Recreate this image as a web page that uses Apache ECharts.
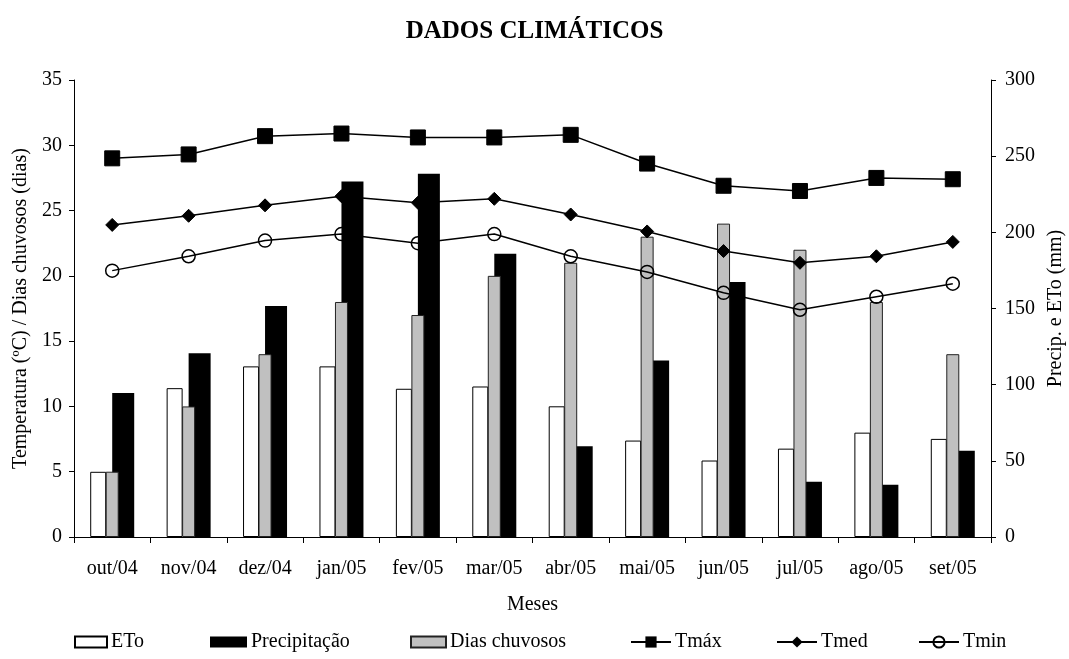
<!DOCTYPE html>
<html>
<head>
<meta charset="utf-8">
<script src="https://cdn.jsdelivr.net/npm/echarts@6/dist/echarts.min.js"></script>
<style>html,body{margin:0;padding:0;background:#fff}#c{width:1069px;height:659px}</style>
</head>
<body>
<div id="c"></div>
<script>
const categories = ['out/04','nov/04','dez/04','jan/05','fev/05','mar/05','abr/05','mai/05','jun/05','jul/05','ago/05','set/05'];
const eto = [42.8, 97.7, 112, 112, 97.3, 98.8, 85.8, 63.3, 50.2, 58.0, 68.5, 64.4];
const precipitacao = [94.5, 120.6, 151.6, 233.4, 238.5, 185.9, 59.6, 115.9, 167.4, 36.2, 34.3, 56.7];
const diasChuvosos = [5, 10, 14, 18, 17, 20, 21, 23, 24, 22, 18, 14];
const tmax = [29.0, 29.3, 30.7, 30.9, 30.6, 30.6, 30.8, 28.6, 26.9, 26.5, 27.5, 27.4];
const tmed = [23.9, 24.6, 25.4, 26.1, 25.6, 25.9, 24.7, 23.4, 21.9, 21.0, 21.5, 22.6];
const tmin = [20.4, 21.5, 22.7, 23.2, 22.5, 23.2, 21.5, 20.3, 18.7, 17.4, 18.4, 19.4];

const FONT = "'Liberation Serif','Times New Roman',serif";
const txt = {fontFamily: FONT, fontSize: 20, color: '#000'};
const chart = echarts.init(document.getElementById('c'));

function lg(name, left, w, h) {
  return {
    data: [name], left: left, top: 632, padding: 0,
    itemWidth: w, itemHeight: h, itemGap: 0,
    textStyle: Object.assign({}, txt, {padding: [0,0,0,-1]}),
    selectedMode: false
  };
}

chart.setOption({
  animation: false,
  backgroundColor: '#fff',
  title: {
    text: 'DADOS CLIMÁTICOS', left: 'center', top: 19, padding: 0,
    textStyle: {fontFamily: FONT, fontSize: 25, fontWeight: 'bold', color: '#000'}
  },
  grid: {left: 74, right: 78, top: 80, bottom: 122, containLabel: false, outerBoundsMode: 'none'},
  legend: [
    Object.assign(lg('ETo', 74, 32, 11), {icon: 'rect'}),
    Object.assign(lg('Precipitação', 210, 37, 11), {icon: 'rect'}),
    Object.assign(lg('Dias chuvosos', 410, 35, 11), {icon: 'rect'}),
    lg('Tmáx', 630, 40, 14),
    lg('Tmed', 776, 40, 14),
    lg('Tmin', 918, 40, 14)
  ],
  xAxis: [{
    type: 'category', data: categories,
    name: 'Meses', nameLocation: 'middle', nameGap: 58, nameTextStyle: txt,
    axisLine: {show: true, lineStyle: {color: '#000', width: 1}},
    axisTick: {show: true, length: 6, lineStyle: {color: '#000'}},
    axisLabel: Object.assign({}, txt, {margin: 22, interval: 0}),
    splitLine: {show: false}
  }, {
    type: 'category', data: categories, show: false, position: 'bottom'
  }],
  yAxis: [{
    type: 'value', min: 0, max: 35, interval: 5, position: 'left',
    name: 'Temperatura (ºC) / Dias chuvosos (dias)', nameLocation: 'middle', nameRotate: 90, nameGap: 41,
    nameTextStyle: txt,
    axisLine: {show: true, lineStyle: {color: '#000', width: 1}},
    axisTick: {show: true, length: 5, lineStyle: {color: '#000'}},
    axisLabel: Object.assign({}, txt, {margin: 12}),
    splitLine: {show: false}
  }, {
    type: 'value', min: 0, max: 300, interval: 50, position: 'right',
    name: 'Precip. e ETo (mm)', nameLocation: 'middle', nameRotate: 90, nameGap: 50,
    nameTextStyle: txt,
    axisLine: {show: true, lineStyle: {color: '#000', width: 1}},
    axisTick: {show: true, length: 5, lineStyle: {color: '#000'}},
    axisLabel: Object.assign({}, txt, {margin: 14}),
    splitLine: {show: false}
  }],
  series: [
    {name: 'ETo', type: 'bar', xAxisIndex: 0, yAxisIndex: 1, data: eto, barWidth: 16, barGap: '37.5%',
     itemStyle: {color: '#fff', borderColor: '#000', borderWidth: 1}, z: 2},
    {name: 'Precipitação', type: 'bar', xAxisIndex: 0, yAxisIndex: 1, data: precipitacao, barWidth: 22, barGap: '37.5%',
     itemStyle: {color: '#000', borderColor: '#000', borderWidth: 0}, z: 2},
    {name: 'Dias chuvosos', type: 'bar', xAxisIndex: 1, yAxisIndex: 0, data: diasChuvosos, barWidth: 13,
     itemStyle: {color: '#c0c0c0', borderColor: '#222', borderWidth: 1}, z: 3},
    {name: 'Tmáx', type: 'line', xAxisIndex: 0, yAxisIndex: 0, data: tmax, symbol: 'rect', symbolSize: 15,
     lineStyle: {color: '#000', width: 1.5}, itemStyle: {color: '#000', borderColor: '#000'}, z: 4},
    {name: 'Tmed', type: 'line', xAxisIndex: 0, yAxisIndex: 0, data: tmed, symbol: 'diamond', symbolSize: 13,
     lineStyle: {color: '#000', width: 1.5}, itemStyle: {color: '#000', borderColor: '#000'}, z: 4},
    {name: 'Tmin', type: 'line', xAxisIndex: 0, yAxisIndex: 0, data: tmin, symbol: 'circle', symbolSize: 13,
     lineStyle: {color: '#000', width: 1.5}, itemStyle: {color: 'rgba(0,0,0,0)', borderColor: '#000', borderWidth: 1.5}, z: 4}
  ]
});
</script>
</body>
</html>
